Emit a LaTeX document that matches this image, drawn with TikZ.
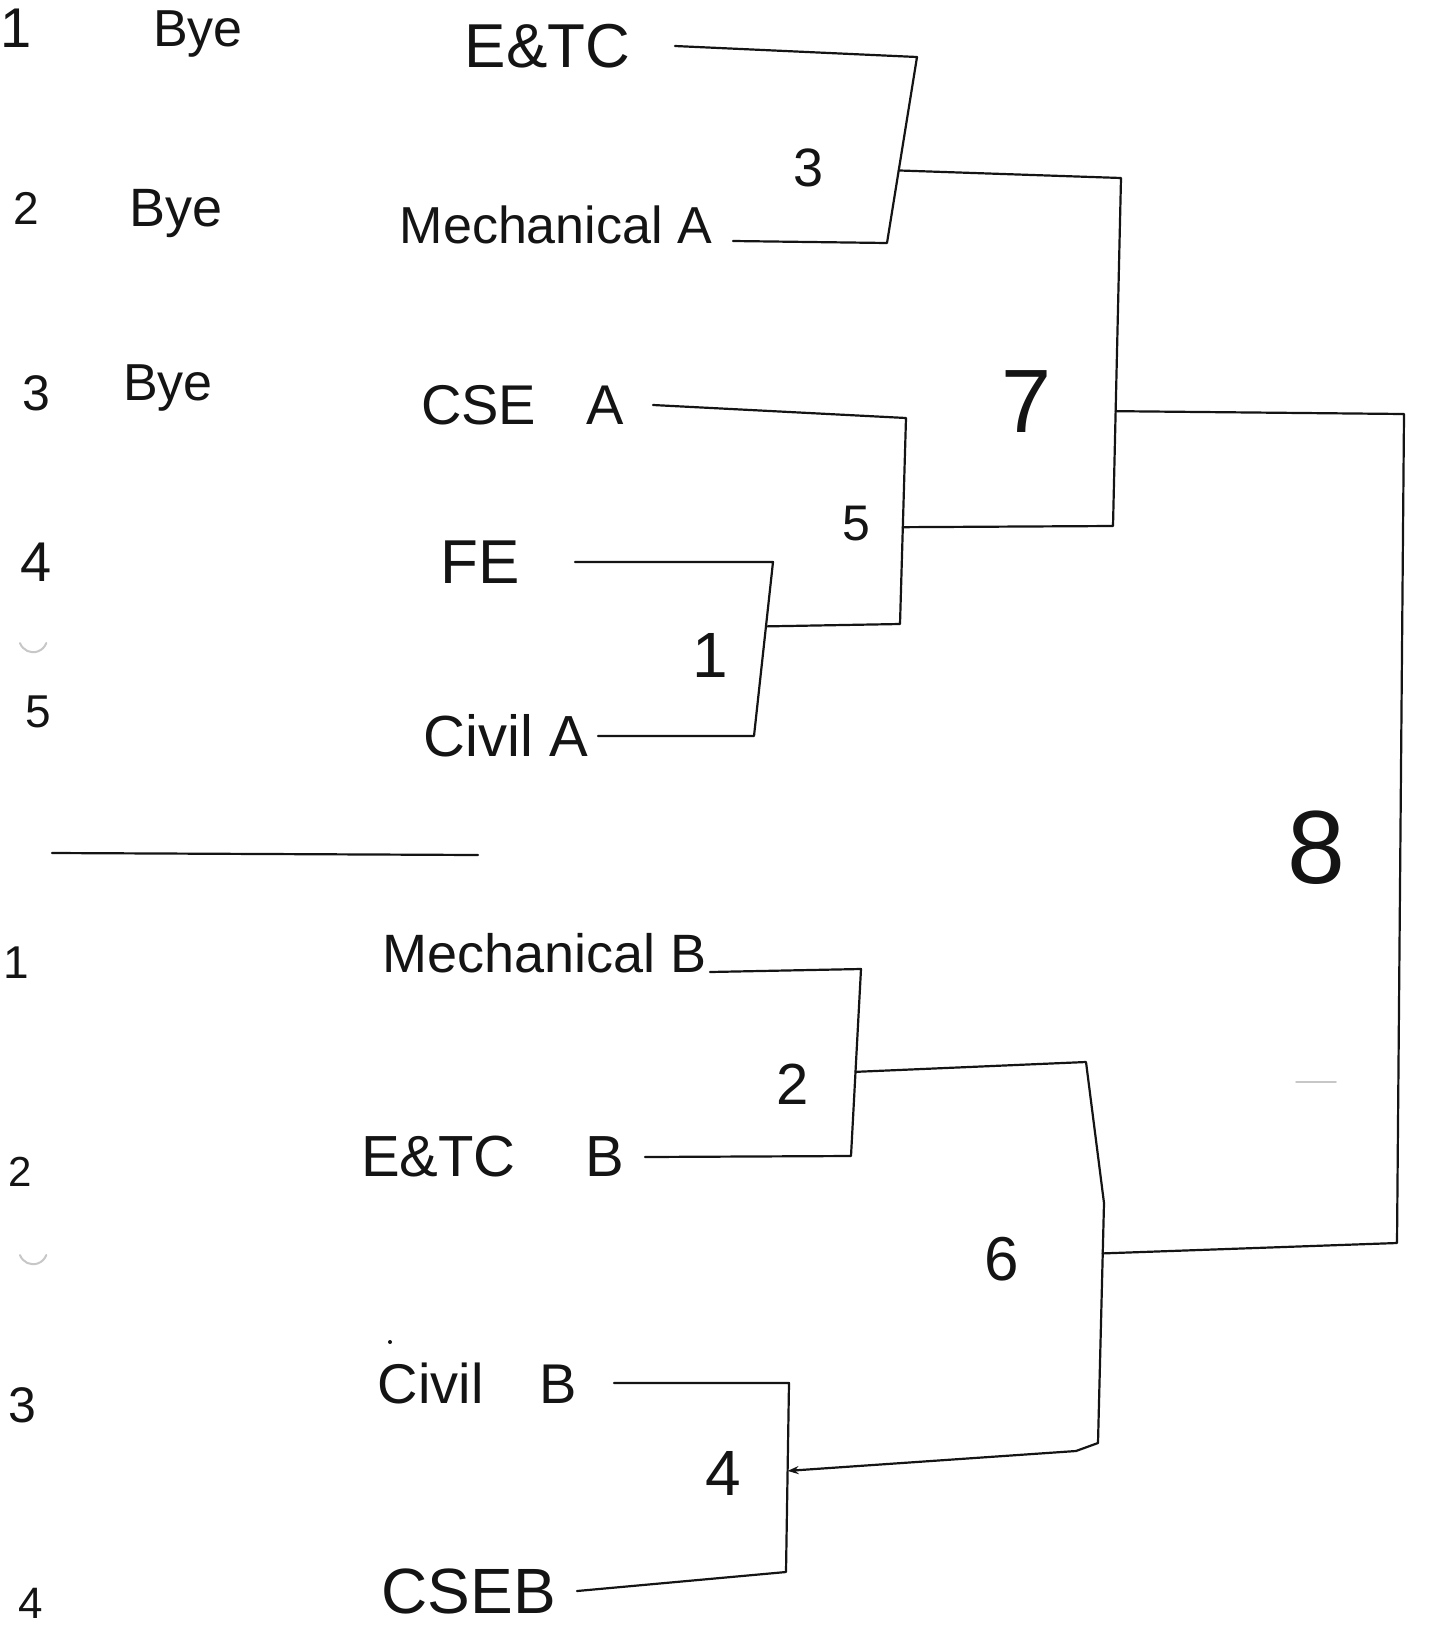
\documentclass[tikz,border=0pt]{standalone}
\usepackage{fontspec}
\setmainfont{Liberation Sans}
\usetikzlibrary{arrows.meta,calc}
\definecolor{ink}{gray}{0.08}
\tikzset{
  txt/.style={inner sep=0pt, outer sep=0pt, text=ink, font=\fontsize{#1}{#1}\selectfont},
  txt/.default=54,
  wire/.style={draw=ink, line width=2.2pt, line join=round, line cap=round},
  faint/.style={draw=black!22, line width=2pt, line cap=round}
}
\begin{document}
\begin{tikzpicture}[x=1pt,y=-1pt]
\fill[white] (0,0) rectangle (1429,1631);
\useasboundingbox (0,0) rectangle (1429,1631);

% left numbering, upper group
\node[txt=56] (a1) at (16,28) {1};
\node[txt=46] (a2) at (26,208) {2};
\node[txt=50] (a3) at (36,393) {3};
\node[txt=56] (a4) at (36,562) {4};
\node[txt=46] (a5) at (38,712) {5};
\node[txt=52] (bye1) at (198,34) {Bye};
\node[txt=54] (bye2) at (176,214) {Bye};
\node[txt=52] (bye3) at (168,388) {Bye};

% separator
\draw[wire] (52,853) -- (478,855);

% left numbering, lower group
\node[txt=46] (b1) at (16,963) {1};
\node[txt=42] (b2) at (20,1172) {2};
\node[txt=50] (b3) at (22,1405) {3};
\node[txt=44] (b4) at (31,1603) {4};

% punch-hole shadows and specks
\draw[faint] (20,643) arc[start angle=200,end angle=340,radius=14pt];
\draw[faint] (20,1255) arc[start angle=200,end angle=340,radius=14pt];
\draw[faint, line width=1.5pt] (1296,1082) -- (1336,1082);
\fill[ink] (390,1342) circle[radius=2pt];

% teams
\node[txt=62, anchor=east, outer xsep=45pt] (etc) at (675,46) {E\&TC};
\node[txt=52, anchor=mid east, outer xsep=21pt] (mecha) at (733,241) {Mechanical A};
\node[txt=56, anchor=east, outer xsep=29pt] (csea) at (653,405) {CSE\hspace{0.9em}A};
\node[txt=62, anchor=east, outer xsep=55pt] (fe) at (575,562) {FE};
\node[txt=58, anchor=east, outer xsep=10pt] (civila) at (598,736) {Civil A};
\node[txt=54, anchor=base east, outer xsep=3pt] (mechb) at (710,972) {Mechanical B};
\node[txt=58, anchor=east, outer xsep=21pt] (etcb) at (645,1157) {E\&TC\hspace{1.2em}B};
\node[txt=56, anchor=east, outer xsep=37pt] (civilb) at (614,1383) {Civil\hspace{1em}B};
\node[txt=64, anchor=east, outer xsep=21pt] (cseb) at (577,1591) {CSEB};

% match labels
\node[txt=54] (l3) at (809,168) {3};
\node[txt=50] (l5) at (856,524) {5};
\node[txt=64] (l1) at (710,655) {1};
\node[txt=90] (l7) at (1027,402) {7};
\node[txt=104] (l8) at (1316,848) {8};
\node[txt=58] (l2) at (793,1084) {2};
\node[txt=64] (l4) at (723,1473) {4};
\node[txt=62] (l6) at (1002,1259) {6};

% bracket corners
\coordinate (m3t) at (917,57);
\coordinate (m3b) at (887,243);
\coordinate (m1t) at (773,562);
\coordinate (m1b) at (754,736);
\coordinate (m5t) at (906,418);
\coordinate (m5b) at (900,624);
\coordinate (m7t) at (1121,178);
\coordinate (m7b) at (1113,526);
\coordinate (m8t) at (1404,414);
\coordinate (m8b) at (1397,1243);
\coordinate (m2t) at (861,969);
\coordinate (m2b) at (851,1156);
\coordinate (m4t) at (789,1383);
\coordinate (m4b) at (786,1572);
\coordinate (m6t) at (1086,1062);
\coordinate (m6m) at (1104,1203);
\coordinate (m6b) at (1098,1443);
\coordinate (m6c) at (1076,1451);

% winner points on the verticals
\coordinate (w3) at ($(m3t)!0.61!(m3b)$);
\coordinate (w1) at ($(m1t)!0.37!(m1b)$);
\coordinate (w5) at ($(m5t)!0.53!(m5b)$);
\coordinate (w7) at ($(m7t)!0.67!(m7b)$);
\coordinate (w2) at ($(m2t)!0.55!(m2b)$);
\coordinate (w4) at ($(m4t)!0.465!(m4b)$);
\coordinate (w6) at ($(m6m)!0.21!(m6b)$);

% first-round brackets
\draw[wire] (etc.east) -- (m3t) -- (m3b) -- (mecha.mid east);
\draw[wire] (fe.east) -- (m1t) -- (m1b) -- (civila.east);
\draw[wire] (mechb.base east) -- (m2t) -- (m2b) -- (etcb.east);
\draw[wire] (civilb.east) -- (m4t) -- (m4b) -- (cseb.east);

% later rounds
\draw[wire] (csea.east) -- (m5t) -- (m5b) -- (w1);
\draw[wire] (w3) -- (m7t) -- (m7b) -- (w5);
\draw[wire] (w7) -- (m8t) -- (m8b) -- (w6);
\draw[wire, -{Stealth[length=11pt,width=8pt]}] (w2) -- (m6t) -- (m6m) -- (m6b) -- (m6c) -- (w4);
\end{tikzpicture}
\end{document}
